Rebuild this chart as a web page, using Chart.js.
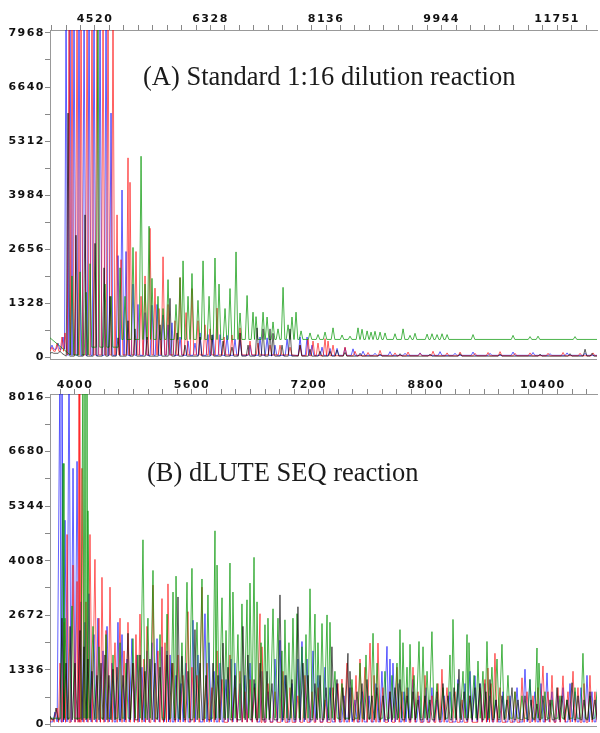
<!DOCTYPE html>
<html>
<head>
<meta charset="utf-8">
<script src="https://cdn.jsdelivr.net/npm/chart.js@4"></script>
<style>
  html, body { margin: 0; padding: 0; background: #fff; }
  #wrap { position: relative; width: 600px; height: 733px; overflow: hidden; }
  #topBox { position: absolute; left: 0; top: 0; width: 600px; height: 366px; }
  #botBox { position: absolute; left: 0; top: 366px; width: 600px; height: 367px; }
</style>
</head>
<body>
<div id="wrap">
  <div id="topBox"><canvas id="topChart"></canvas></div>
  <div id="botBox"><canvas id="botChart"></canvas></div>
</div>
<script>
// ---- axis labels ----
const topXLabels = [4520, 6328, 8136, 9944, 11751];
const topYLabels = [0, 1328, 2656, 3984, 5312, 6640, 7968];
const botXLabels = [4000, 5600, 7200, 8800, 10400];
const botYLabels = [0, 1336, 2672, 4008, 5344, 6680, 8016];

// ---- (A) standard 1:16 dilution: peak positions / heights per dye ----
const topGreenX = [4160,4286,4380,4442,4567,4677,4771,4912,4990,5115,5241,5303,5366,5412,5506,5585,5663,5788,5851,5898,5976,6038,6132,6211,6305,6398,6461,6555,6633,6727,6790,6900,6993,7040,7150,7213,7306,7384,7463,7541,7603,7666,7745,7885,8010,8120,8245,8386,8511,8636,8699,8778,8840,8902,8981,9059,9215,9341,9450,9528,9717,9794,9873,9951,10030,10436,11062,11328,11453,12032];
const topGreenY = [2000,2100,1600,2300,8600,1800,1500,2200,1500,2700,4940,1800,3220,1940,1500,1200,1910,1300,1960,2370,1500,2060,1400,2370,1500,2440,1800,1200,1690,2590,1090,1520,1110,1000,1110,990,870,700,1720,800,990,1110,650,600,560,620,725,550,520,725,690,650,620,640,620,600,580,700,540,590,570,580,560,580,560,560,540,510,520,510];
const topGreenBaseX = [3816, 4051, 4442, 4912];
const topGreenBaseY = [480, 60, 250, 440];

const topRedX = [3847,3926,4004,4051,4114,4160,4239,4302,4396,4473,4552,4646,4724,4802,4865,4928,5037,5068,5162,5241,5303,5381,5459,5522,5585,5663,5772,5851,5945,6038,6132,6242,6320,6430,6540,6664,6790,6946,7071,7259,7416,7572,7729,7854,7932,8010,8120,8167,8245,8433,8589,8793,8981,9215,9419,9607,9810,10030,10233,10467,10671,10859,11093,11328,11610,11845,12111,12314];
const topRedY = [250,350,500,600,8600,8600,8600,8600,8600,8600,8600,8600,8600,8600,3500,2400,4900,4300,2600,1500,2000,3170,1700,1200,2470,1300,900,1960,1100,1690,900,800,700,1210,500,550,725,400,350,300,300,250,300,450,400,350,460,400,300,250,150,120,170,110,130,100,150,110,130,100,120,140,100,110,100,120,100,110];
const topRedBaseX = [3816, 4080, 7700];
const topRedBaseY = [150, 60, 40];

const topBlueX = [3847,3941,4020,4067,4129,4192,4270,4349,4427,4505,4599,4693,4771,4880,4943,5006,5115,5193,5303,5412,5491,5585,5663,5725,5851,5976,6085,6164,6289,6367,6477,6587,6711,6790,6946,7103,7213,7337,7526,7729,7839,7916,8073,8198,8308,8433,8558,8715,8902,9137,9372,9607,9920,10154,10436,10702,11062,11375,11641,11908,12189];
const topBlueY = [300,350,500,8600,8600,8600,8600,8600,8600,8600,8600,8600,6000,2500,4110,2600,1800,1300,1100,1280,1300,1040,800,850,500,400,350,600,560,560,560,540,450,420,300,500,480,300,450,500,500,300,250,220,220,240,210,150,100,140,100,110,140,100,130,100,130,120,90,110,100];
const topBlueBaseX = [3816, 4067];
const topBlueBaseY = [200, 50];

const topBlackX = [3847,3973,4098,4223,4364,4520,4662,4755,4880,5037,5146,5335,5538,5694,5804,5929,6164,6351,6524,6664,6790,6915,7056,7150,7259,7306,7447,7572,7729,7885,8042,8198,8308,8433,8668,8981,9294,9763,10233,10859,11485,11954,12189,12298];
const topBlackY = [120,150,6000,3000,3500,2800,2200,1500,480,900,700,500,800,1450,600,300,500,550,400,250,600,300,725,700,700,590,300,700,300,200,150,150,180,120,100,80,90,80,90,80,80,90,200,100];
const topBlackBaseX = [3816, 4050];
const topBlackBaseY = [100, 30];

// ---- (B) dLUTE SEQ reaction ----
const botGreenX = [3836,3863,3959,4109,4137,4164,4177,4246,4328,4424,4520,4616,4698,4793,4861,4930,4998,5067,5163,5259,5341,5382,5463,5532,5600,5669,5737,5819,5915,5943,6011,6066,6120,6161,6229,6284,6353,6394,6449,6490,6545,6599,6640,6709,6777,6831,6872,6927,6982,7037,7105,7160,7215,7283,7324,7379,7448,7488,7556,7652,7789,7899,7981,8077,8132,8240,8336,8405,8446,8487,8542,8583,8638,8706,8761,8816,8883,8952,9034,9130,9171,9239,9308,9363,9390,9459,9513,9581,9636,9704,9773,9841,9923,10019,10115,10224,10320,10347,10429,10525,10635,10731,10840,10949,11045,11141];
const botGreenY = [6390,2600,2900,9000,9000,9000,5230,2400,1900,2200,1700,2000,1500,2100,1700,4520,2600,3770,2200,2700,3240,3630,2000,3480,3820,2500,3560,3170,4740,3900,3100,2300,3950,3240,2200,2950,3050,3460,4090,3000,2000,2440,2600,2830,2600,1800,2560,2000,2600,2710,1900,2200,3320,2700,2000,2470,2680,2500,1300,1000,1100,1500,1700,2230,1500,1300,1200,1500,2320,2000,1400,1960,1200,2030,1900,1300,2270,1000,900,1700,2570,1000,1300,2200,2000,1200,1550,1300,2030,1400,1600,1960,1200,800,700,1100,1870,1500,800,600,700,600,900,1740,700,800];
const botGreenBaseX = [3658];
const botGreenBaseY = [150];

const botRedX = [3685,3754,3795,3850,3891,3973,4028,4055,4068,4095,4150,4205,4273,4328,4369,4424,4479,4547,4616,4671,4725,4793,4834,4889,4944,4985,5067,5135,5190,5231,5272,5341,5409,5477,5545,5600,5669,5737,5806,5874,5943,6011,6120,6188,6257,6325,6394,6462,6531,6558,6640,6736,6845,6941,7050,7146,7242,7324,7420,7529,7597,7652,7721,7789,7844,7899,7967,8036,8091,8145,8213,8309,8405,8473,8542,8624,8692,8788,8883,8965,9020,9089,9198,9294,9404,9540,9608,9649,9691,9745,9814,9923,10019,10115,10184,10265,10333,10402,10470,10525,10607,10676,10744,10813,10881,10963,11045,11113];
const botRedY = [150,400,1500,2500,4650,3900,3500,9000,9000,6270,3000,4650,4040,2600,3600,2300,3360,2000,2600,1800,2500,1500,2200,2700,1600,2400,3410,1800,3080,2000,3440,1500,1700,1200,2760,1400,1200,3360,1500,900,1800,1100,1700,900,1300,800,1100,900,2710,1900,1000,800,1300,900,700,1200,800,900,600,900,1000,1110,1500,900,1200,1600,1400,1990,1200,1990,900,800,1400,800,900,1400,800,1200,700,1000,1350,900,800,600,700,900,1100,1380,1000,1740,900,700,800,1140,800,700,900,1430,800,1200,900,1190,800,1300,900,1000,1200,800];
const botRedBaseX = [3658];
const botRedBaseY = [50];

const botBlueX = [3726,3795,3822,3863,3918,3973,4028,4082,4137,4191,4260,4314,4383,4438,4506,4588,4643,4712,4779,4848,4916,4985,5053,5122,5190,5259,5300,5382,5450,5518,5614,5682,5778,5833,5902,5984,6066,6134,6188,6257,6325,6394,6462,6558,6640,6736,6804,6872,6968,7050,7105,7174,7256,7324,7420,7488,7584,7680,7762,7830,7926,8022,8118,8199,8268,8309,8350,8418,8501,8555,8624,8706,8802,8883,8952,9048,9130,9239,9335,9404,9472,9540,9608,9677,9759,9855,9951,10047,10156,10224,10292,10375,10457,10525,10607,10676,10772,10840,10922,11004,11072,11154];
const botBlueY = [300,9000,9000,5000,9000,6270,6440,3000,2500,3200,2200,2600,1800,2400,1500,2500,2200,1600,2100,1700,1400,1800,2000,2100,1900,1800,1700,1200,1000,1500,2550,1700,2710,2000,1300,1500,1100,1600,1500,1000,1200,1500,1000,1300,800,1600,2060,1200,1000,1600,2030,1600,1800,1200,1400,900,1000,700,900,600,800,700,1000,1300,1910,1600,1500,1000,800,900,1100,700,900,900,600,700,800,1100,1000,1300,1190,1000,1000,700,600,800,700,900,1350,1100,800,1000,1260,800,700,900,1000,800,900,1200,800,1100];
const botBlueBaseX = [3658];
const botBlueBaseY = [60];

const botBlackX = [3658,3740,3822,3877,3932,4000,4068,4123,4177,4232,4301,4356,4410,4465,4520,4575,4657,4725,4793,4889,4957,5026,5094,5163,5259,5327,5409,5463,5545,5641,5710,5792,5888,5956,6025,6093,6188,6298,6366,6449,6531,6627,6695,6804,6886,6968,7050,7119,7187,7283,7352,7434,7515,7584,7666,7734,7762,7858,7926,7995,8063,8132,8213,8309,8377,8446,8542,8624,8692,8788,8856,8952,9034,9102,9185,9253,9322,9404,9472,9540,9622,9677,9759,9841,9910,9978,10060,10156,10238,10320,10402,10498,10594,10662,10731,10799,10881,10963,11045,11113];
const botBlackY = [200,400,2600,1500,2400,1500,2300,1900,1600,1300,1200,1500,1700,1200,1350,1400,1200,2230,1500,1700,1300,1600,1500,1400,1700,1500,3120,1670,1300,2320,1500,1200,1500,1200,1990,1400,1200,2400,1700,1100,1500,1300,1000,3170,1200,1100,2880,1500,1200,1000,1200,900,1900,1100,900,1740,1300,800,1000,1100,700,900,700,800,900,1100,700,800,600,700,600,800,1000,700,900,1350,800,700,900,1000,800,1100,600,700,600,900,600,700,600,500,700,600,900,700,600,1020,700,600,800,600];
const botBlackBaseX = [3658];
const botBlackBaseY = [110];

const dyeColors = {
  green: 'rgba(0,150,0,0.7)',
  red: 'rgba(255,0,0,0.62)',
  blue: 'rgba(0,0,255,0.62)',
  black: 'rgba(0,0,0,0.62)'
};

// baseline level in force at x (step lookup)
function baseAt(bx, by, x) {
  let v = by[0];
  for (let i = 0; i < bx.length; i++) if (x >= bx[i]) v = by[i];
  return v;
}

// turn a peak list into a trace: baseline - peak - baseline
function trace(xs, ys, bx, by, hw, x0, x1) {
  const pts = [{ x: x0, y: baseAt(bx, by, x0) }];
  for (let i = 0; i < xs.length; i++) {
    const prev = i ? xs[i - 1] : x0;
    if (xs[i] - prev > 2 * hw) {
      if (i) pts.push({ x: prev + hw, y: baseAt(bx, by, prev + hw) });
      pts.push({ x: xs[i] - hw, y: baseAt(bx, by, xs[i] - hw) });
    } else if (i) {
      pts.push({ x: (prev + xs[i]) / 2, y: baseAt(bx, by, prev) });
    }
    pts.push({ x: xs[i], y: ys[i] });
  }
  const last = xs[xs.length - 1];
  pts.push({ x: last + hw, y: baseAt(bx, by, last + hw) });
  if (x1 > last + hw) pts.push({ x: x1, y: baseAt(bx, by, x1) });
  return pts;
}

function tickList(labels, per, lo, hi) {
  const step = (labels[1] - labels[0]) / per;
  const out = [];
  for (let v = labels[0]; v >= lo; v -= step) out.unshift(v);
  for (let v = labels[0] + step; v <= hi + 0.5; v += step) out.push(v);
  return out;
}

function labelFor(labels, step) {
  return (value) => {
    const hit = labels.find(l => Math.abs(l - value) < step / 2);
    return hit === undefined ? '' : String(hit);
  };
}

const tickFont = { family: 'DejaVu Sans', size: 11, weight: 'bold' };

const panelText = {
  id: 'panelText',
  beforeDraw(chart) {
    chart.ctx.letterSpacing = '1.5px';
  },
  afterDraw(chart, args, opts) {
    const ctx = chart.ctx, a = chart.chartArea;
    ctx.save();
    ctx.letterSpacing = '0px';
    ctx.strokeStyle = '#999';
    ctx.lineWidth = 1;
    ctx.beginPath();
    ctx.moveTo(a.left, Math.round(a.bottom) + 0.5);
    ctx.lineTo(a.right, Math.round(a.bottom) + 0.5);
    ctx.stroke();
    ctx.font = '26.5px "Liberation Serif"';
    ctx.fillStyle = '#1a1a1a';
    ctx.textBaseline = 'middle';
    ctx.fillText(opts.text, opts.x, opts.y);
    ctx.restore();
  }
};

function makePanel(id, p) {
  const xStep = (p.xLabels[1] - p.xLabels[0]) / 8;
  const yStep = (p.yLabels[1] - p.yLabels[0]) / 2;
  const xTicks = tickList(p.xLabels, 8, p.xMin, p.xMax);
  const yTicks = tickList(p.yLabels, 2, 0, p.yMax);
  const sets = [
    ['black', p.black], ['green', p.green], ['red', p.red], ['blue', p.blue]
  ].map(([c, d]) => ({
    data: trace(d[0], d[1], d[2], d[3], p.hw, p.xMin, p.xMax),
    borderColor: dyeColors[c],
    borderWidth: 1,
    pointRadius: 0,
    tension: 0,
    fill: false
  }));
  return new Chart(document.getElementById(id), {
    type: 'line',
    data: { datasets: sets },
    plugins: [panelText],
    options: {
      responsive: true,
      maintainAspectRatio: false,
      animation: false,
      parsing: false,
      layout: { padding: { left: 0, right: 3, top: 0, bottom: p.padBottom } },
      plugins: {
        legend: { display: false },
        tooltip: { enabled: false },
        panelText: { text: p.text, x: p.textX, y: p.textY }
      },
      scales: {
        x: {
          type: 'linear',
          position: 'top',
          min: p.xMin,
          max: p.xMax,
          afterBuildTicks: s => { s.ticks = xTicks.map(v => ({ value: v })); },
          afterFit: s => { s.height = p.axisH; },
          ticks: {
            autoSkip: false,
            maxRotation: 0,
            color: '#111',
            font: tickFont,
            padding: p.xPad,
            callback: labelFor(p.xLabels, xStep)
          },
          grid: { drawOnChartArea: false, tickLength: 5, color: '#888' },
          border: { color: '#999' }
        },
        y: {
          type: 'linear',
          min: -50,
          max: p.yMax,
          afterBuildTicks: s => { s.ticks = yTicks.map(v => ({ value: v })); },
          afterFit: s => { s.width = 50; },
          ticks: {
            autoSkip: false,
            color: '#111',
            font: tickFont,
            padding: 0,
            callback: labelFor(p.yLabels, yStep)
          },
          grid: { drawOnChartArea: false, tickLength: 5, color: '#888' },
          border: { color: '#999' }
        }
      }
    }
  });
}

makePanel('topChart', {
  xMin: 3816, xMax: 12376, yMax: 8040, hw: 28,
  xLabels: topXLabels, yLabels: topYLabels,
  axisH: 30, padBottom: 1, xPad: -1,
  text: '(A) Standard 1:16 dilution reaction', textX: 143, textY: 78,
  green: [topGreenX, topGreenY, topGreenBaseX, topGreenBaseY],
  red: [topRedX, topRedY, topRedBaseX, topRedBaseY],
  blue: [topBlueX, topBlueY, topBlueBaseX, topBlueBaseY],
  black: [topBlackX, topBlackY, topBlackBaseX, topBlackBaseY]
});

makePanel('botChart', {
  xMin: 3658, xMax: 11141, yMax: 8090, hw: 30,
  xLabels: botXLabels, yLabels: botYLabels,
  axisH: 28, padBottom: 2, xPad: -3,
  text: '(B) dLUTE SEQ reaction', textX: 147, textY: 108,
  green: [botGreenX, botGreenY, botGreenBaseX, botGreenBaseY],
  red: [botRedX, botRedY, botRedBaseX, botRedBaseY],
  blue: [botBlueX, botBlueY, botBlueBaseX, botBlueBaseY],
  black: [botBlackX, botBlackY, botBlackBaseX, botBlackBaseY]
});
</script>
</body>
</html>
